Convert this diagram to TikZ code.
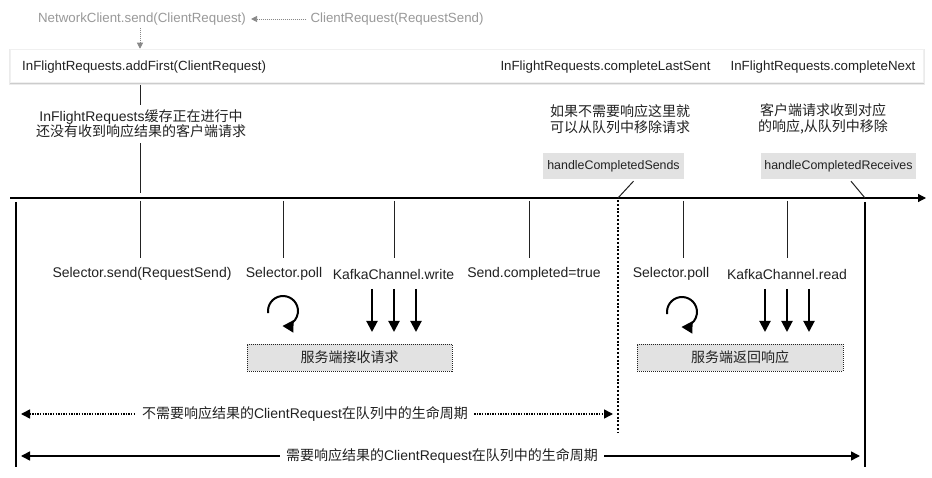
\documentclass[tikz,border=0pt]{standalone}
\usepackage{fontspec}
\setmainfont{Liberation Sans}
\newfontfamily\cjk{Noto Sans CJK SC}
\usetikzlibrary{arrows.meta}
\definecolor{gtext}{HTML}{999999}
\definecolor{gline}{HTML}{888888}
\definecolor{boxgray}{HTML}{E2E2E2}
\definecolor{ink}{HTML}{222222}
\begin{document}
\begin{tikzpicture}[x=1pt,y=-1pt,
  lbl/.style={inner sep=1pt,text=ink,font=\fontsize{14}{16}\selectfont},
  toplbl/.style={inner sep=1pt,text=ink,font=\fontsize{13.3}{16}\selectfont},
  glbl/.style={inner sep=1pt,text=gtext,font=\fontsize{13.3}{16}\selectfont},
  ticklbl/.style={lbl,inner ysep=6pt},
  hbox/.style={fill=boxgray,text=ink,inner sep=0pt,minimum height=26pt,font=\fontsize{12.4}{14}\selectfont},
  dbox/.style={fill=boxgray,draw=ink,dash pattern=on 1pt off 1pt,line width=0.8pt,inner sep=0pt,minimum height=27pt,text=ink,font=\fontsize{14}{16}\selectfont},
  tick/.style={line width=1pt,draw=ink},
  gdot/.style={draw=gline,line width=0.8pt,dash pattern=on 1pt off 1pt,-{Triangle[length=6pt,width=6pt]}},
  bigarrow/.style={line width=2pt,draw=black,-{Triangle[length=11pt,width=11pt]}},
  looparrow/.style={line width=2pt,draw=black,-{Triangle[length=11pt,width=12pt]}},
  thickline/.style={line width=2pt,draw=black},
  lifearrow/.style={line width=1.6pt,draw=black,{Triangle[length=9pt,width=9pt]}-{Triangle[length=9pt,width=9pt]}},
  onarrow/.style={lbl,fill=white,inner xsep=6pt,font=\fontsize{14}{16}\selectfont\cjk}
]
\useasboundingbox[fill=white] (0,0) rectangle (932,478);

% top gray part
\node[glbl] (nc) at (142,19) {NetworkClient.send(ClientRequest)};
\node[glbl] (cr) at (397,19) {ClientRequest(RequestSend)};
\fill[black!8] (9,49.5) rectangle (924.5,85.5);
\fill[black!20] (10,50) rectangle (923.5,84);
\node[fill=white,draw=black!6,line width=0.5pt,minimum width=913pt,minimum height=33pt,inner sep=0pt] (ifr) at (466.5,65.5) {};
\draw[gdot] ([xshift=-3pt]cr.west) -- ([xshift=4pt]nc.east);
\coordinate (ncd) at (140,28);
\draw[gdot] (ncd) -- (ncd |- ifr.north);
\node[toplbl,anchor=west] (af) at (21,67) {InFlightRequests.addFirst(ClientRequest)};
\node[toplbl] (cls) at (605.5,67) {InFlightRequests.completeLastSent};
\node[toplbl] (cn) at (823,67) {InFlightRequests.completeNext};

% timeline
\coordinate (tl0) at (10,198);
\coordinate (tl1) at (926,198);
\draw[line width=1.2pt,-{Triangle[length=8pt,width=8pt]}] (tl0) -- (tl1);

% left stem with note
\coordinate (st0) at (140,85);
\coordinate (st1) at (140,193);
\draw[tick] (st0) -- (st1);
\node[lbl,fill=white,align=center,inner xsep=2pt,inner ysep=5pt] (cache) at (141,124)
  {InFlightRequests{\cjk 缓存正在进行中}\\[-1pt]{\cjk 还没有收到响应结果的客户端请求}};

% right notes
\node[lbl,align=center,font=\fontsize{14}{15.5}\selectfont\cjk] (n1) at (620,119)
  {如果不需要响应这里就\\可以从队列中移除请求};
\node[lbl,align=center,font=\fontsize{14}{15.5}\selectfont\cjk] (n2) at (823,119)
  {客户端请求收到对应\\的响应,从队列中移除};
\node[hbox,minimum width=141pt] (hcs) at (613.5,166) {handleCompletedSends};
\node[hbox,minimum width=155pt] (hcr) at (838.5,166) {handleCompletedReceives};

% dividers
\coordinate (dv0) at (618,198);
\coordinate (dv1) at (618,432);
\coordinate (rv0) at (865,198);
\coordinate (rv1) at (865,467);
\coordinate (lv0) at (16,202);
\coordinate (lv1) at (16,467);
\draw[tick] ([xshift=20pt,yshift=-2pt]hcs.south) -- (dv0);
\draw[tick] ([xshift=12.5pt,yshift=-2pt]hcr.south) -- (rv0);
\draw[line width=2pt,dash pattern=on 2pt off 1.8pt] ([yshift=-2pt]dv0) -- (dv1);
\draw[thickline] ([yshift=-4pt]rv0) -- (rv1);
\draw[thickline] (lv0) -- (lv1);

% tick labels
\node[ticklbl] (ss) at (142,274) {Selector.send(RequestSend)};
\node[ticklbl] (sp1) at (284,274) {Selector.poll};
\node[ticklbl] (kw) at (393.5,274) {KafkaChannel.write};
\node[ticklbl] (sc) at (534,274) {Send.completed=true};
\node[ticklbl] (sp2) at (671,274) {Selector.poll};
\node[ticklbl] (kr) at (787,274) {KafkaChannel.read};
\foreach \x/\n in {140/ss,283/sp1,394/kw,529/sc,683/sp2,787/kr}{
  \draw[tick] (\x,201) -- (\x,258);
}

% loops
\draw[looparrow] (283,311) ++(172:15) arc[start angle=172,end angle=452,radius=15];
\draw[looparrow] (682,312) ++(172:15) arc[start angle=172,end angle=452,radius=15];

% down arrows
\foreach \x in {372,394,416,765,787,809}{
  \draw[bigarrow] (\x,289) -- (\x,332);
}

% server boxes
\node[dbox,minimum width=205pt] (recv) at (349.5,357.5) {\cjk 服务端接收请求};
\node[dbox,minimum width=206pt] (resp) at (740,357.5) {\cjk 服务端返回响应};

% lifecycles
\coordinate (la0) at (21,414);
\coordinate (la1) at (613,414);
\draw[lifearrow,dash pattern=on 1.3pt off 1.3pt] (la0) -- (la1);
\node[onarrow] (lt1) at (305,414) {不需要响应结果的{\rmfamily ClientRequest}在队列中的生命周期};
\coordinate (lb0) at (21,456);
\coordinate (lb1) at (860,456);
\draw[lifearrow] (lb0) -- (lb1);
\node[onarrow] (lt2) at (442,456) {需要响应结果的{\rmfamily ClientRequest}在队列中的生命周期};
\end{tikzpicture}
\end{document}
